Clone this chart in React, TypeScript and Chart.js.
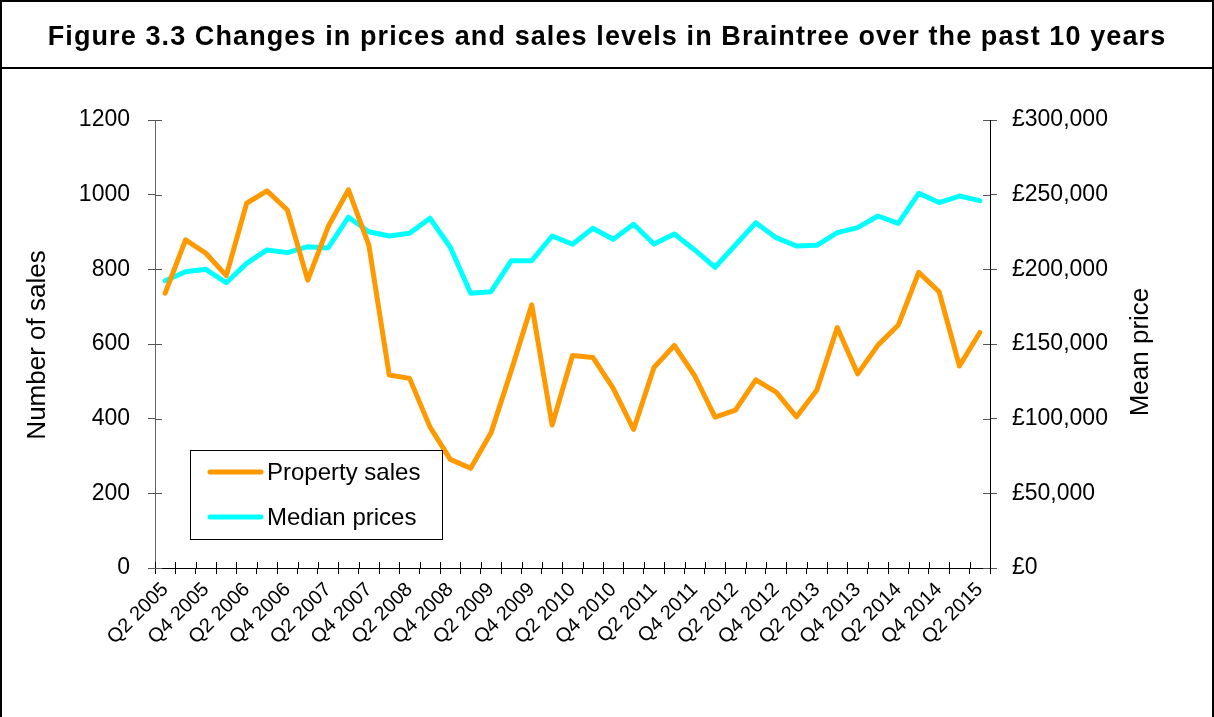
import React, { useEffect, useRef } from "react";
import { Chart, registerables } from "chart.js";

Chart.register(...registerables);

const categories = [
  "Q2 2005", "Q3 2005", "Q4 2005", "Q1 2006", "Q2 2006", "Q3 2006", "Q4 2006",
  "Q1 2007", "Q2 2007", "Q3 2007", "Q4 2007", "Q1 2008", "Q2 2008", "Q3 2008",
  "Q4 2008", "Q1 2009", "Q2 2009", "Q3 2009", "Q4 2009", "Q1 2010", "Q2 2010",
  "Q3 2010", "Q4 2010", "Q1 2011", "Q2 2011", "Q3 2011", "Q4 2011", "Q1 2012",
  "Q2 2012", "Q3 2012", "Q4 2012", "Q1 2013", "Q2 2013", "Q3 2013", "Q4 2013",
  "Q1 2014", "Q2 2014", "Q3 2014", "Q4 2014", "Q1 2015", "Q2 2015",
];

const propertySales = [
  736, 879, 843, 783, 977, 1010, 959, 771, 914, 1013, 865, 517, 508, 378, 291,
  267, 362, 530, 705, 383, 569, 564, 481, 371, 537, 596, 515, 404, 423, 504,
  471, 405, 477, 644, 520, 597, 651, 792, 740, 541, 631,
];

const medianPrices = [
  192400, 198400, 200000, 191000, 204000, 213000, 211200, 215200, 214300,
  234900, 225200, 222300, 224100, 234200, 214800, 184000, 185000, 205800,
  205800, 222300, 216800, 227500, 220100, 230200, 217000, 223700, 213000,
  201400, 216300, 231200, 221200, 215600, 216100, 224600, 227900, 235700,
  230800, 250900, 244700, 249100, 246000,
];

const titleText = "Figure 3.3 Changes in prices and sales levels in Braintree over the past 10 years";
const leftAxisTitle = "Number of sales";
const rightAxisTitle = "Mean price";

const FONT = "'Liberation Sans', Arial, Helvetica, sans-serif";

const extrasPlugin = {
  id: "extras",
  afterDraw(chart: any) {
    const ctx = chart.ctx;
    const area = chart.chartArea;
    const x = chart.scales.x;
    const y = chart.scales.y;
    const y1 = chart.scales.y1;
    ctx.save();
    // inner tick marks
    ctx.lineWidth = 1;
    ctx.strokeStyle = "#555";
    y.ticks.forEach((_t: any, i: number) => {
      const py = Math.round(y.getPixelForTick(i)) + 0.5;
      ctx.beginPath();
      ctx.moveTo(area.left, py);
      ctx.lineTo(area.left + 7, py);
      ctx.stroke();
    });
    y1.ticks.forEach((_t: any, i: number) => {
      const py = Math.round(y1.getPixelForTick(i)) + 0.5;
      ctx.beginPath();
      ctx.moveTo(area.right - 7, py);
      ctx.lineTo(area.right, py);
      ctx.stroke();
    });
    ctx.strokeStyle = "#000";
    const half = (x.getPixelForValue(1) - x.getPixelForValue(0)) / 2;
    for (let i = 0; i <= categories.length; i++) {
      const px = Math.round(x.getPixelForValue(i) - half) + 0.5;
      ctx.beginPath();
      ctx.moveTo(px, area.bottom - 6);
      ctx.lineTo(px, area.bottom);
      ctx.stroke();
    }

    // axis titles (both read bottom-to-top)
    ctx.fillStyle = "#000";
    ctx.font = `26px ${FONT}`;
    ctx.textAlign = "center";
    ctx.textBaseline = "middle";
    ctx.save();
    ctx.translate(38, 345);
    ctx.rotate(-Math.PI / 2);
    ctx.fillText(leftAxisTitle, 0, 0);
    ctx.restore();
    ctx.save();
    ctx.translate(1141, 352);
    ctx.rotate(-Math.PI / 2);
    ctx.fillText(rightAxisTitle, 0, 0);
    ctx.restore();

    // legend box
    ctx.lineWidth = 1;
    ctx.strokeStyle = "#000";
    ctx.strokeRect(190.5, 450.5, 252, 89);
    const rows = [472, 517];
    chart.data.datasets.forEach((ds: any, i: number) => {
      const ly = rows[i];
      ctx.strokeStyle = ds.borderColor;
      ctx.lineWidth = 5;
      ctx.lineCap = "round";
      ctx.beginPath();
      ctx.moveTo(210, ly);
      ctx.lineTo(261, ly);
      ctx.stroke();
      ctx.fillStyle = "#000";
      ctx.font = `24px ${FONT}`;
      ctx.textAlign = "left";
      ctx.textBaseline = "middle";
      ctx.fillText(ds.label, 267, ly + 1);
    });
    ctx.restore();
  },
};

export default function App() {
  const canvasRef = useRef<HTMLCanvasElement | null>(null);

  useEffect(() => {
    if (!canvasRef.current) return;
    const chart = new Chart(canvasRef.current, {
      type: "line",
      data: {
        labels: categories,
        datasets: [
          {
            label: "Property sales",
            data: propertySales,
            borderColor: "#FF9900",
            backgroundColor: "#FF9900",
            borderWidth: 5,
            pointRadius: 0,
            tension: 0,
            borderCapStyle: "round",
            borderJoinStyle: "round",
            yAxisID: "y",
          },
          {
            label: "Median prices",
            data: medianPrices,
            borderColor: "#00FFFF",
            backgroundColor: "#00FFFF",
            borderWidth: 5,
            pointRadius: 0,
            tension: 0,
            borderCapStyle: "round",
            borderJoinStyle: "round",
            yAxisID: "y1",
          },
        ],
      },
      options: {
        responsive: false,
        animation: false,
        events: [],
        layout: { padding: { top: 120, left: 0, right: 0, bottom: 0 } },
        plugins: {
          legend: { display: false },
          title: { display: false },
          tooltip: { enabled: false },
        },
        scales: {
          x: {
            type: "category",
            offset: true,
            grid: {
              offset: true,
              drawOnChartArea: false,
              tickLength: 6,
              color: "#000",
            },
            border: { color: "#000", width: 1 },
            ticks: {
              autoSkip: false,
              minRotation: 45,
              maxRotation: 45,
              padding: 4,
              color: "#000",
              font: { family: FONT, size: 20 },
              callback: (_v: any, i: number) => (i % 2 === 0 ? categories[i] : ""),
            },
            afterFit: (s: any) => {
              s.height = 149;
            },
          },
          y: {
            position: "left",
            min: 0,
            max: 1200,
            grid: { drawOnChartArea: false, tickLength: 7, color: "#555" },
            border: { color: "#666", width: 1 },
            ticks: {
              stepSize: 200,
              padding: 18,
              color: "#000",
              font: { family: FONT, size: 23 },
              callback: (v: any) => String(v),
            },
            afterFit: (s: any) => {
              s.width = 155;
            },
          },
          y1: {
            position: "right",
            min: 0,
            max: 300000,
            grid: { drawOnChartArea: false, tickLength: 7, color: "#555" },
            border: { color: "#000", width: 1 },
            ticks: {
              stepSize: 50000,
              padding: 15,
              color: "#000",
              font: { family: FONT, size: 23 },
              callback: (v: any) => "£" + Number(v).toLocaleString("en-GB"),
            },
            afterFit: (s: any) => {
              s.width = 224;
            },
          },
        },
      },
      plugins: [extrasPlugin],
    });
    return () => chart.destroy();
  }, []);

  return (
    <div
      style={{
        position: "fixed",
        left: 0,
        top: 0,
        width: 1214,
        height: 717,
        background: "#fff",
        overflow: "hidden",
      }}
    >
      <canvas
        ref={canvasRef}
        width={1214}
        height={717}
        style={{ position: "absolute", left: 0, top: 0, width: 1214, height: 717 }}
      />
      <div
        style={{
          position: "absolute",
          left: 0,
          top: 0,
          width: 1214,
          height: 717,
          boxSizing: "border-box",
          borderLeft: "2px solid #000",
          borderRight: "2px solid #000",
          borderTop: "2px solid #000",
          pointerEvents: "none",
        }}
      />
      <div
        style={{
          position: "absolute",
          left: 0,
          top: 0,
          width: 1214,
          height: 69,
          boxSizing: "border-box",
          borderBottom: "2px solid #000",
          display: "flex",
          alignItems: "center",
          justifyContent: "center",
          fontFamily: FONT,
          fontWeight: "bold",
          fontSize: 27,
          letterSpacing: "1.1px",
          whiteSpace: "nowrap",
          color: "#000",
          paddingTop: 5,
          pointerEvents: "none",
        }}
      >
        {titleText}
      </div>
    </div>
  );
}
